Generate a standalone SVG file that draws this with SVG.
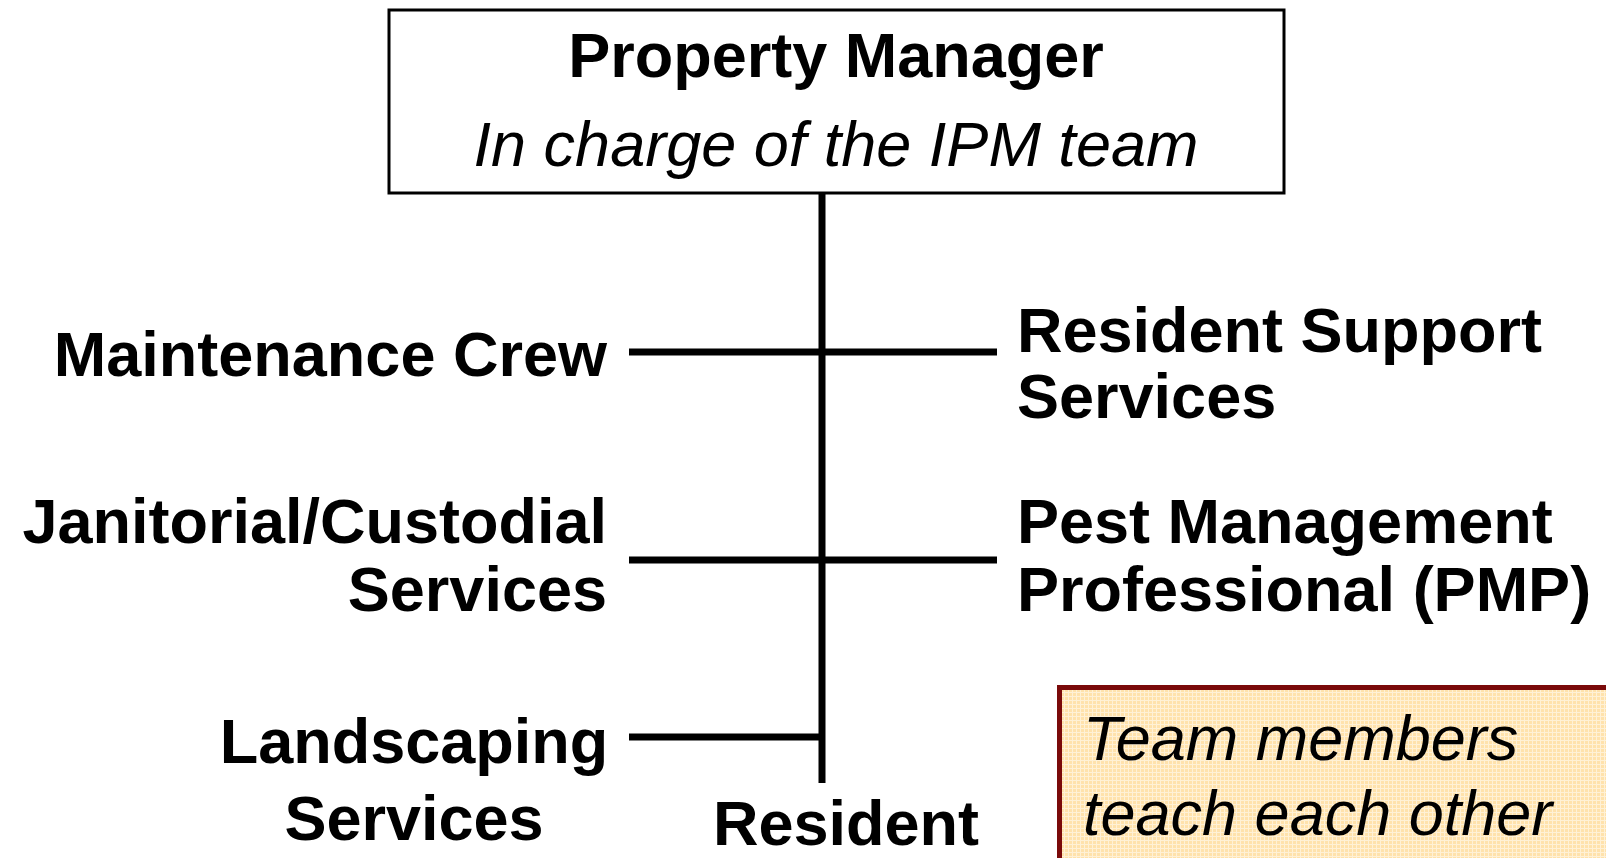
<svg xmlns="http://www.w3.org/2000/svg" width="1606" height="858" viewBox="0 0 1606 858">
<defs>
<style>
.b{font-family:"Liberation Sans",Arial,sans-serif;font-weight:bold;font-size:63px;fill:#000}
.i{font-family:"Liberation Sans",Arial,sans-serif;font-style:italic;font-size:63px;fill:#000}
.ln{stroke:#000;stroke-width:7;fill:none}
</style>
<pattern id="grid" width="4" height="4" patternUnits="userSpaceOnUse">
<rect width="4" height="4" fill="#FFE2AC"/>
<path d="M0 0.5H4M0.5 0V4" stroke="#FFF1D6" stroke-width="1"/>
</pattern>
</defs>
<rect width="1606" height="858" fill="#fff"/>
<g id="connectors">
<line class="ln" x1="822" y1="193" x2="822" y2="783"/>
<line class="ln" x1="629" y1="352" x2="997" y2="352"/>
<line class="ln" x1="629" y1="560" x2="997" y2="560"/>
<line class="ln" x1="629" y1="737" x2="822" y2="737"/>
</g>
<g id="property-manager">
<rect x="389" y="10" width="895" height="183" fill="#fff" stroke="#000" stroke-width="3"/>
<text class="b" x="836" y="77" text-anchor="middle">Property Manager</text>
<text class="i" x="836" y="166" text-anchor="middle">In charge of the IPM team</text>
</g>
<g id="maintenance-crew">
<text class="b" x="607" y="376" text-anchor="end">Maintenance Crew</text>
</g>
<g id="resident-support">
<text class="b" x="1017" y="352">Resident Support</text>
<text class="b" x="1017" y="418">Services</text>
</g>
<g id="janitorial">
<text class="b" x="607" y="543" text-anchor="end">Janitorial/Custodial</text>
<text class="b" x="607" y="611" text-anchor="end">Services</text>
</g>
<g id="pmp">
<text class="b" x="1017" y="543">Pest Management</text>
<text class="b" x="1017" y="611">Professional (PMP)</text>
</g>
<g id="landscaping">
<text class="b" x="414" y="763" text-anchor="middle">Landscaping</text>
<text class="b" x="414" y="840" text-anchor="middle">Services</text>
</g>
<g id="resident">
<text class="b" x="846" y="845" text-anchor="middle">Resident</text>
</g>
<g id="note">
<rect x="1059.5" y="687.5" width="560" height="200" fill="url(#grid)" stroke="#7A0A0A" stroke-width="5"/>
<text class="i" x="1083" y="760">Team members</text>
<text class="i" x="1083" y="835">teach each other</text>
</g>
</svg>
